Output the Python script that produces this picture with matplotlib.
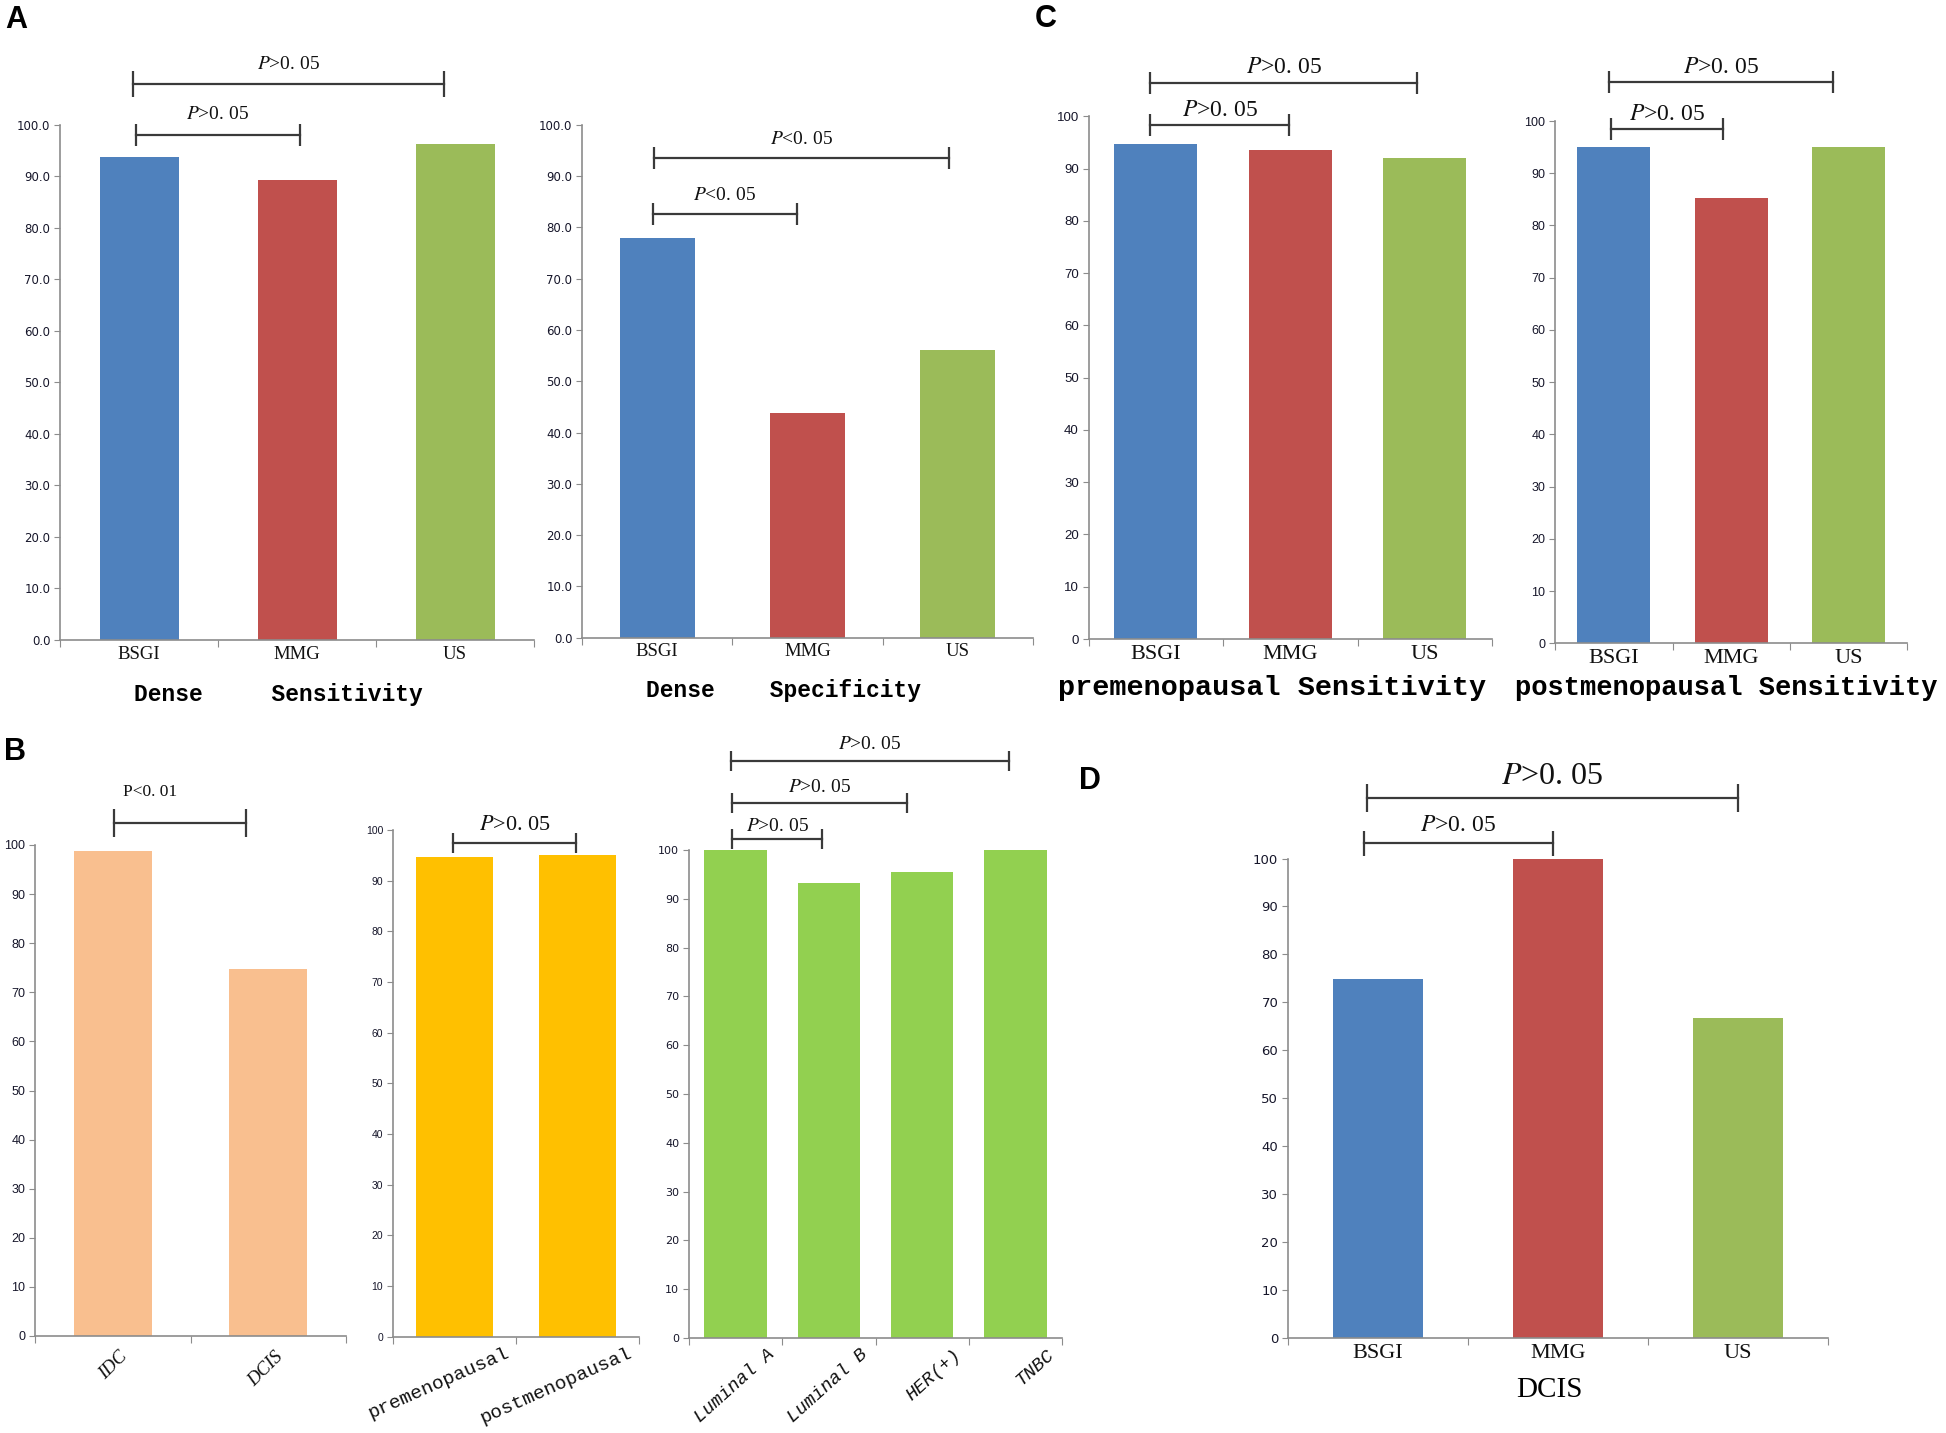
import matplotlib
matplotlib.use('Agg')
import matplotlib.pyplot as plt
import matplotlib.transforms as mtransforms
import numpy as np

plt.rcParams['mathtext.fontset'] = 'stix'

W, H = 1946, 1433

BLUE, RED, GREEN = '#4f81bd', '#c0504d', '#9bbb59'
PEACH, GOLD, LIME = '#f9bf8f', '#ffc000', '#92d050'
AXIS = '#8c8c8c'
INK = '#3a3a3a'

# panel A / C / D: imaging modality comparisons
modalities = ['BSGI', 'MMG', 'US']
dense_sens = [93.7, 89.2, 96.3]
dense_spec = [77.9, 43.9, 56.0]
premeno_sens = [94.7, 93.5, 92.1]
postmeno_sens = [95.0, 85.3, 95.0]
dcis_sens = [74.9, 100.0, 66.7]

# panel B: BSGI sensitivity by subgroup
path_types = ['IDC', 'DCIS']
path_sens = [98.8, 74.8]
meno_groups = ['premenopausal', 'postmenopausal']
meno_sens = [94.7, 95.0]
subtypes = ['Luminal A', 'Luminal B', 'HER(+)', 'TNBC']
subtype_sens = [100.0, 93.3, 95.5, 100.0]

SERIF = ['Liberation Serif', 'DejaVu Serif']
MONO = ['Liberation Mono', 'DejaVu Sans Mono']
NARROW = ['Liberation Sans Narrow', 'Liberation Sans', 'DejaVu Sans']

fig = plt.figure(figsize=(W / 100, H / 100), dpi=100)


def panel(x0, x1, y100, y0):
    # axes placed by pixel positions of the 100 and 0 gridlines
    ax = fig.add_axes([x0 / W, 1 - y0 / H, (x1 - x0) / W, (y0 - y100) / H])
    ax.set_ylim(0, 100)
    for s in ['top', 'right']:
        ax.spines[s].set_visible(False)
    for s in ['left', 'bottom']:
        ax.spines[s].set_color(AXIS)
        ax.spines[s].set_linewidth(1.2)
    return ax


def bars(ax, values, colors, width, yfmt='{:.0f}', yfont=None, ysize=8):
    n = len(values)
    x = np.arange(n)
    ax.bar(x, values, width=width, color=colors, linewidth=0)
    ax.set_xlim(-0.5, n - 0.5)
    ax.set_xticks(np.arange(n + 1) - 0.5)
    ax.set_xticklabels([])
    ax.tick_params(axis='x', which='major', length=5, color=AXIS, direction='out')
    ticks = np.arange(0, 101, 10)
    ax.set_yticks(ticks, [yfmt.format(t) for t in ticks],
                  fontfamily=yfont or ['DejaVu Sans'], fontsize=ysize, color='#16162a')
    ax.tick_params(axis='y', length=4, color=AXIS, pad=3)
    return x


def xlabels(ax, labels, size, family=SERIF, weight='normal', pad=4):
    ax.set_xticks(np.arange(len(labels)), labels, minor=True,
                  fontfamily=family, fontsize=size, fontweight=weight, color='#111111')
    ax.tick_params(axis='x', which='minor', length=0, pad=pad)


def rot_labels(ax, labels, off, rot, size, family, style='normal', dy=-9):
    trans = mtransforms.offset_copy(ax.get_xaxis_transform(), fig=fig, y=dy, units='dots')
    for i, lab in enumerate(labels):
        ax.text(i + off, 0, lab, transform=trans, rotation=rot, rotation_mode='anchor',
                ha='right', va='top', fontsize=size, fontfamily=family, fontstyle=style,
                color='#111111')


def bracket(ax, xa, xb, y, text, size, dy, cap=18):
    ax.plot([xa, xb], [y, y], color=INK, lw=1.6, marker='|', markersize=cap,
            markeredgewidth=1.6, clip_on=False)
    ax.annotate(text, ((xa + xb) / 2, y), xytext=(0, dy), textcoords='offset pixels',
                ha='center', va='center', fontsize=size, fontfamily=SERIF,
                color='#111111', annotation_clip=False)


P_GT = '$P$>0. 05'
P_LT = '$P$<0. 05'

# ---- A: dense breast sensitivity / specificity
ax = panel(60, 534, 124.6, 640)
bars(ax, dense_sens, [BLUE, RED, GREEN], 0.5, '{:.1f}', ysize=8.5)
xlabels(ax, modalities, 13.5)
bracket(ax, -0.02, 1.02, 98.0, P_GT, 14, 20, cap=16)
bracket(ax, -0.04, 1.93, 107.8, P_GT, 14, 20, cap=19)
fig.text(278 / W, 1 - 695 / H, 'Dense     Sensitivity', ha='center', va='center',
         fontsize=16.5, fontfamily=MONO, fontweight='bold')

ax = panel(582, 1033, 124.6, 637.8)
bars(ax, dense_spec, [BLUE, RED, GREEN], 0.5, '{:.1f}', ysize=8.5)
xlabels(ax, modalities, 13.5)
bracket(ax, -0.03, 0.93, 82.6, P_LT, 14, 18, cap=16)
bracket(ax, -0.02, 1.94, 93.5, P_LT, 14, 18, cap=16)
fig.text(784 / W, 1 - 691 / H, 'Dense    Specificity', ha='center', va='center',
         fontsize=16.5, fontfamily=MONO, fontweight='bold')

# ---- C: sensitivity by menopausal status
ax = panel(1088.5, 1492, 116.3, 639)
bars(ax, premeno_sens, [BLUE, RED, GREEN], 0.62, yfont=NARROW, ysize=9.5)
xlabels(ax, modalities, 16)
bracket(ax, -0.04, 0.99, 98.3, P_GT, 17, 15, cap=16)
bracket(ax, -0.04, 1.94, 106.4, P_GT, 17, 15, cap=16)
fig.text(1272 / W, 1 - 688 / H, 'premenopausal Sensitivity', ha='center', va='center',
         fontsize=20.5, fontfamily=MONO, fontweight='bold')

ax = panel(1555, 1907.5, 121, 643.3)
bars(ax, postmeno_sens, [BLUE, RED, GREEN], 0.62, yfont=NARROW, ysize=9)
xlabels(ax, modalities, 16)
bracket(ax, -0.02, 0.93, 98.4, P_GT, 17, 15, cap=16)
bracket(ax, -0.04, 1.87, 107.4, P_GT, 17, 15, cap=16)
fig.text(1726 / W, 1 - 688 / H, 'postmenopausal Sensitivity', ha='center', va='center',
         fontsize=19.5, fontfamily=MONO, fontweight='bold')

# ---- B: subgroups
ax = panel(35, 346, 845, 1336)
bars(ax, path_sens, [PEACH, PEACH], 0.5, yfont=NARROW, ysize=9)
rot_labels(ax, path_types, 0.04, 45, 13.5, SERIF, style='italic', dy=-12)
ax.plot([0.01, 0.86], [104.5, 104.5], color=INK, lw=1.6, marker='|', markersize=20,
        markeredgewidth=1.6, clip_on=False)
ax.annotate('P<0. 01', (0.24, 104.5), xytext=(0, 31), textcoords='offset pixels',
            ha='center', va='center', fontsize=12.5, fontfamily=SERIF, color='#111111',
            annotation_clip=False)

ax = panel(393, 639, 830, 1336.6)
bars(ax, meno_sens, [GOLD, GOLD], 0.62, yfont=NARROW, ysize=7.5)
rot_labels(ax, meno_groups, 0.41, 24, 14, MONO, dy=-8)
bracket(ax, -0.01, 0.99, 97.5, P_GT, 16, 17, cap=14)

ax = panel(689, 1062, 850, 1338)
bars(ax, subtype_sens, LIME, 0.67, ysize=8)
rot_labels(ax, subtypes, 0.33, 42, 13.5, MONO, style='italic', dy=-8)
bracket(ax, -0.04, 0.93, 102.2, P_GT, 14, 13, cap=14)
bracket(ax, -0.04, 1.84, 109.6, P_GT, 14, 16, cap=14)
bracket(ax, -0.05, 2.93, 118.3, P_GT, 14, 16, cap=14)

# ---- D: DCIS
ax = panel(1288, 1828, 858.5, 1338)
bars(ax, dcis_sens, [BLUE, RED, GREEN], 0.5, ysize=9.5)
xlabels(ax, modalities, 16)
bracket(ax, -0.08, 0.97, 103.3, P_GT, 17, 17, cap=18)
bracket(ax, -0.06, 2.0, 112.7, P_GT, 23, 21, cap=20)
fig.text(1549 / W, 1 - 1390 / H, 'DCIS', ha='center', va='center',
         fontsize=21, fontfamily=SERIF)

# panel letters
for letter, (px, py) in {'A': (16, 20), 'B': (15, 752), 'C': (1046, 19), 'D': (1090, 781)}.items():
    fig.text(px / W, 1 - py / H, letter, ha='center', va='center', fontsize=22,
             fontweight='bold', fontfamily=['Liberation Sans', 'DejaVu Sans'])

fig.savefig('out.png', dpi=100)
